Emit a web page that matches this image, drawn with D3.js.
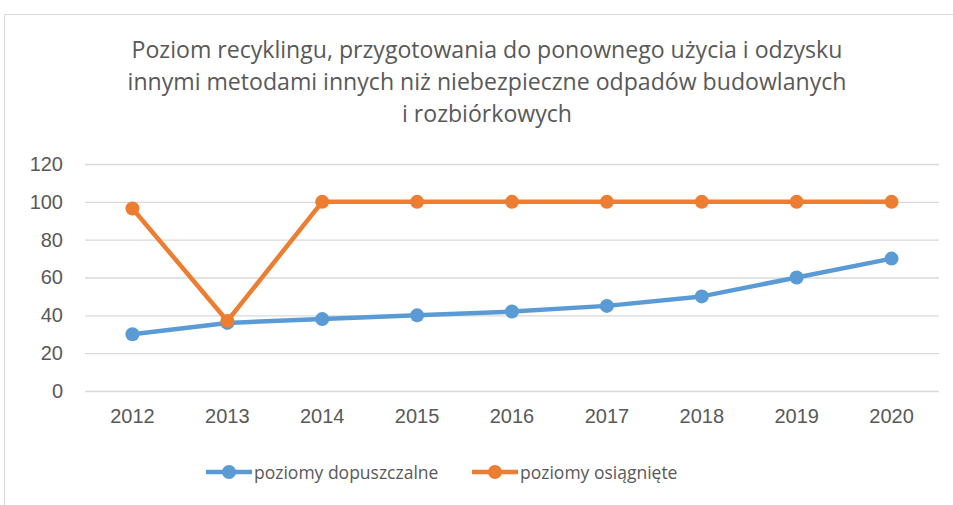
<!DOCTYPE html>
<html>
<head>
<meta charset="utf-8">
<script src="https://cdn.jsdelivr.net/npm/d3@7"></script>
<style>
  body { margin: 0; background: #fff; }
  svg { display: block; font-family: "Open Sans", "Liberation Sans", sans-serif; }
</style>
</head>
<body>
<svg id="drawing_region"></svg>
<script>
const years = ["2012", "2013", "2014", "2015", "2016", "2017", "2018", "2019", "2020"];
const dopuszczalne = [30, 36, 38, 40, 42, 45, 50, 60, 70];
const osiagniete = [96.5, 37, 100, 100, 100, 100, 100, 100, 100];
const yTicks = [0, 20, 40, 60, 80, 100, 120];
const titleLines = [
    "Poziom recyklingu, przygotowania do ponownego użycia i odzysku",
    "innymi metodami innych niż niebezpieczne odpadów budowlanych",
    "i rozbiórkowych"
];
const seriesNames = ["poziomy dopuszczalne", "poziomy osiągnięte"];
const colors = ["#5b9bd5", "#ed7d31"];

const width = 953, height = 505;
const margin = {top: 164, right: 14, bottom: 114, left: 85};

const svg = d3.select('#drawing_region')
    .attr('width', width)
    .attr('height', height);

// chart frame
svg.append('path')
    .attr('d', `M4.5,${height} V14.5 H${width}`)
    .attr('fill', 'none')
    .attr('stroke', '#d9d9d9')
    .attr('stroke-width', 1);

const chart = svg.append('g')
    .attr('transform', `translate(${margin.left}, ${margin.top})`);

const inner_width = width - margin.left - margin.right;
const inner_height = height - margin.top - margin.bottom;

const xscale = d3.scaleBand()
    .domain(years)
    .range([0, inner_width]);

const yscale = d3.scaleLinear()
    .domain([0, 120])
    .range([inner_height, 0]);

// gridlines + y labels
const yaxis = d3.axisLeft(yscale)
    .tickValues(yTicks)
    .tickSize(-inner_width)
    .tickPadding(22);

chart.append('g')
    .call(yaxis)
    .call(g => g.select('.domain').remove())
    .call(g => g.selectAll('.tick line').attr('stroke', '#d9d9d9').attr('stroke-width', 1.3))
    .call(g => g.selectAll('.tick text').attr('fill', '#595959').attr('font-size', 20));

const xaxis = d3.axisBottom(xscale)
    .tickSize(0)
    .tickPadding(18);

chart.append('g')
    .attr('transform', `translate(0, ${inner_height})`)
    .call(xaxis)
    .call(g => g.select('.domain').remove())
    .call(g => g.selectAll('.tick text').attr('fill', '#595959').attr('font-size', 20));

const line = d3.line()
    .x((d, i) => xscale(years[i]) + xscale.bandwidth() / 2)
    .y(d => yscale(d));

[dopuszczalne, osiagniete].forEach((values, k) => {
    chart.append('path')
        .datum(values)
        .attr('fill', 'none')
        .attr('stroke', colors[k])
        .attr('stroke-width', 4.5)
        .attr('stroke-linejoin', 'round')
        .attr('d', line);

    chart.selectAll(null)
        .data(values)
        .enter()
        .append('circle')
        .attr('cx', (d, i) => xscale(years[i]) + xscale.bandwidth() / 2)
        .attr('cy', d => yscale(d))
        .attr('r', 7)
        .attr('fill', colors[k]);
});

// title
svg.append('text')
    .attr('text-anchor', 'middle')
    .attr('fill', '#595959')
    .attr('font-size', 23.1)
    .selectAll('tspan')
    .data(titleLines)
    .enter()
    .append('tspan')
    .attr('x', 487)
    .attr('y', (d, i) => 58 + i * 32)
    .text(d => d);

// legend
const legendX = [206, 472];
const legend = svg.append('g');
seriesNames.forEach((name, k) => {
    const g = legend.append('g').attr('transform', `translate(${legendX[k]}, 472)`);
    g.append('line')
        .attr('x1', 0).attr('x2', 46)
        .attr('stroke', colors[k])
        .attr('stroke-width', 4.5);
    g.append('circle')
        .attr('cx', 23)
        .attr('r', 7)
        .attr('fill', colors[k]);
    g.append('text')
        .attr('x', 48)
        .attr('y', 6.5)
        .attr('fill', '#595959')
        .attr('font-size', 17.5)
        .text(name);
});
</script>
</body>
</html>
